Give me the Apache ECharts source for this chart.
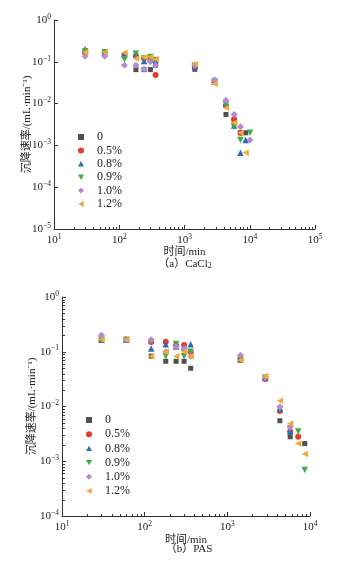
<!DOCTYPE html>
<html><head><meta charset="utf-8">
<script src="https://cdn.jsdelivr.net/npm/echarts@6/dist/echarts.min.js"></script>
<style>html,body{margin:0;padding:0;background:#fff}#c{width:339px;height:567px}</style>
</head><body><div id="c"></div>
<script>
// ---------- data ----------
const seriesNames = ['0', '0.5%', '0.8%', '0.9%', '1.0%', '1.2%'];
const times = [30, 60, 120, 180, 240, 300, 360, 1440, 2880, 4320, 5760, 7200, 8640, 10080];

// (a) CaCl2
const cacl2_0  = [0.17, 0.17, 0.14, 0.065, 0.065, 0.065, 0.083, 0.066, 0.033, 0.0055, 0.0035, 0.002, 0.002, null];
const cacl2_05 = [0.17, 0.17, 0.15, 0.14, 0.12, 0.12, 0.048, 0.075, 0.034, 0.009, 0.0042, 0.002, null, null];
const cacl2_08 = [0.2, 0.17, 0.15, 0.15, 0.105, 0.12, 0.11, 0.078, 0.034, 0.01, 0.003, 0.00067, 0.00135, null];
const cacl2_09 = [0.18, 0.17, 0.115, 0.155, 0.12, 0.13, 0.11, 0.08, 0.034, 0.0095, 0.0028, 0.00135, null, 0.002];
const cacl2_10 = [0.135, 0.135, 0.083, 0.083, 0.066, 0.1, 0.083, 0.082, 0.037, 0.012, 0.0055, 0.0028, null, 0.00135];
const cacl2_12 = [0.17, 0.17, 0.165, 0.12, 0.13, 0.13, 0.115, 0.088, 0.03, 0.0078, 0.0035, 0.002, 0.00067, null];

// (b) PAS
const pas_0  = [0.165, 0.165, 0.083, 0.067, 0.067, 0.067, 0.05, 0.07, 0.032, 0.0055, 0.0028, null, 0.0021, null];
const pas_05 = [0.165, 0.165, 0.15, 0.152, 0.13, 0.133, 0.1, 0.075, 0.032, 0.0083, 0.0035, 0.0028, null, null];
const pas_08 = [0.165, 0.165, 0.115, 0.137, 0.125, 0.12, 0.137, 0.075, 0.034, 0.009, 0.0035, null, null, null];
const pas_09 = [0.165, 0.165, 0.15, 0.083, 0.138, 0.083, 0.1, 0.075, 0.034, 0.009, 0.004, 0.0035, 0.00069, null];
const pas_10 = [0.2, 0.165, 0.165, 0.1, 0.124, 0.115, 0.083, 0.086, 0.034, 0.0099, 0.0042, null, null, null];
const pas_12 = [0.165, 0.165, 0.083, 0.1, 0.083, 0.1, 0.083, 0.07, 0.036, 0.0127, 0.0049, 0.0021, 0.00135, 0.00135];

const cacl2Values = [cacl2_0, cacl2_05, cacl2_08, cacl2_09, cacl2_10, cacl2_12];
const pasValues = [pas_0, pas_05, pas_08, pas_09, pas_10, pas_12];

const captionA = '（a）CaCl';
const captionB = '（b）PAS';
const xName = '时间/min';
const yName = '沉降速率/(mL·min⁻¹)';

// ---------- styles ----------
const colors = ['#505050', '#e6392f', '#2c6cb9', '#3eab4d', '#b68ad3', '#f1a93a'];
const TRI_UP = 'path://M5,0 L10,9 L0,9 Z';
const TRI_DOWN = 'path://M0,0 L10,0 L5,9 Z';
const TRI_LEFT = 'path://M0,5 L9,0 L9,10 Z';
const symbols = ['rect', 'circle', TRI_UP, TRI_DOWN, 'diamond', TRI_LEFT];
const sizes = [5, 6, 6.5, 6.5, 7, 6.5];
const FONT = '"Liberation Serif", "Noto Sans CJK SC", serif';
const AX = '#333';

const powRich = {
  b: { fontSize: 11, fontFamily: FONT, color: '#222', lineHeight: 14 },
  e: { fontSize: 7.5, fontFamily: FONT, color: '#222', verticalAlign: 'top', lineHeight: 14, padding: [0, 0, 5, 0] }
};
function powLabel(v) {
  const e = Math.round(Math.log10(v));
  return '{b|10}{e|' + (e < 0 ? '−' + (-e) : e) + '}';
}

function logAxis(gridIndex, min, max, withName, isX, gap) {
  const o = {
    type: 'log', logBase: 10, gridIndex, min, max,
    splitNumber: Math.round(Math.log10(max / min)),
    axisLine: { show: true, lineStyle: { color: AX, width: 1 } },
    axisTick: { show: true, inside: true, length: 4, lineStyle: { color: AX } },
    minorTick: { show: false },
    splitLine: { show: false },
    axisLabel: { formatter: powLabel, rich: powRich, margin: isX ? 4 : 3 },
    name: withName,
    nameLocation: 'middle',
    nameGap: gap,
    nameMoveOverlap: false,
    nameTextStyle: { fontFamily: FONT, fontSize: 11, color: '#222' }
  };
  if (!isX) o.nameRotate = 90;
  return o;
}

function minorValues(d0, d1) {
  const out = [];
  for (let d = d0; d < d1; d++) for (let k = 2; k <= 9; k++) out.push(k * Math.pow(10, d));
  return out;
}

function minorTicks(xi, yi, vals, fixed, isX) {
  return {
    type: 'custom', xAxisIndex: xi, yAxisIndex: yi, silent: true, clip: false, z: 1,
    data: vals.map(v => isX ? [v, fixed] : [fixed, v]),
    renderItem: function (params, api) {
      const p = api.coord([api.value(0), api.value(1)]);
      const x = Math.round(p[0]) + 0.5, y = Math.round(p[1]) + 0.5;
      return {
        type: 'line',
        shape: isX ? { x1: x, y1: y, x2: x, y2: y - 2.5 } : { x1: x, y1: y, x2: x + 2.5, y2: y },
        style: { stroke: AX, lineWidth: 1 }
      };
    }
  };
}

const series = [];
function addScatter(values, xi, yi) {
  values.forEach((vals, i) => {
    series.push({
      name: seriesNames[i], type: 'scatter', xAxisIndex: xi, yAxisIndex: yi,
      symbol: symbols[i], symbolSize: sizes[i],
      itemStyle: { color: colors[i], opacity: 1 },
      data: times.map((t, j) => vals[j] == null ? null : [t, vals[j]]).filter(d => d),
      z: 3 + i
    });
  });
}
addScatter(cacl2Values, 0, 0);
addScatter(pasValues, 1, 1);
series.push(minorTicks(0, 0, minorValues(1, 5), 1e-5, true));
series.push(minorTicks(1, 1, minorValues(1, 4), 1e-4, true));
series.push(minorTicks(1, 1, minorValues(-4, 0), 10, false));

const legendBase = {
  orient: 'vertical', padding: 0, itemWidth: 6, itemHeight: 6,
  data: seriesNames.map((n, i) => ({ name: n, icon: symbols[i] })),
  selectedMode: false,
  textStyle: { fontFamily: FONT, fontSize: 12, color: '#222', padding: [0, 0, 0, 8] }
};

const chart = echarts.init(document.getElementById('c'), null, { renderer: 'canvas' });
chart.setOption({
  animation: false,
  backgroundColor: '#fff',
  grid: [
    { left: 54, right: 24, top: 20, bottom: 338, containLabel: false },
    { left: 62, right: 29, top: 297, bottom: 51, containLabel: false }
  ],
  xAxis: [
    logAxis(0, 10, 1e5, xName, true, 17.5),
    logAxis(1, 10, 1e4, xName, true, 18.5)
  ],
  yAxis: [
    logAxis(0, 1e-5, 1, yName, false, 21),
    logAxis(1, 1e-4, 1, yName, false, 24.5)
  ],
  legend: [
    Object.assign({}, legendBase, { left: 78, top: 131, itemGap: 1.4 }),
    Object.assign({}, legendBase, { left: 86, top: 414, itemGap: 2.2 })
  ],
  title: [
    { text: captionA + '{s|2}', left: 185, top: 258, textAlign: 'center', padding: 0,
      textStyle: { fontFamily: FONT, fontSize: 11, fontWeight: 'normal', color: '#222',
        rich: { s: { fontFamily: FONT, fontSize: 8, verticalAlign: 'bottom', padding: [4, 0, 0, 0], color: '#222' } } } },
    { text: captionB, left: 189, top: 544, textAlign: 'center', padding: 0,
      textStyle: { fontFamily: FONT, fontSize: 11, fontWeight: 'normal', color: '#222' } }
  ],
  series
});
</script>
</body></html>
